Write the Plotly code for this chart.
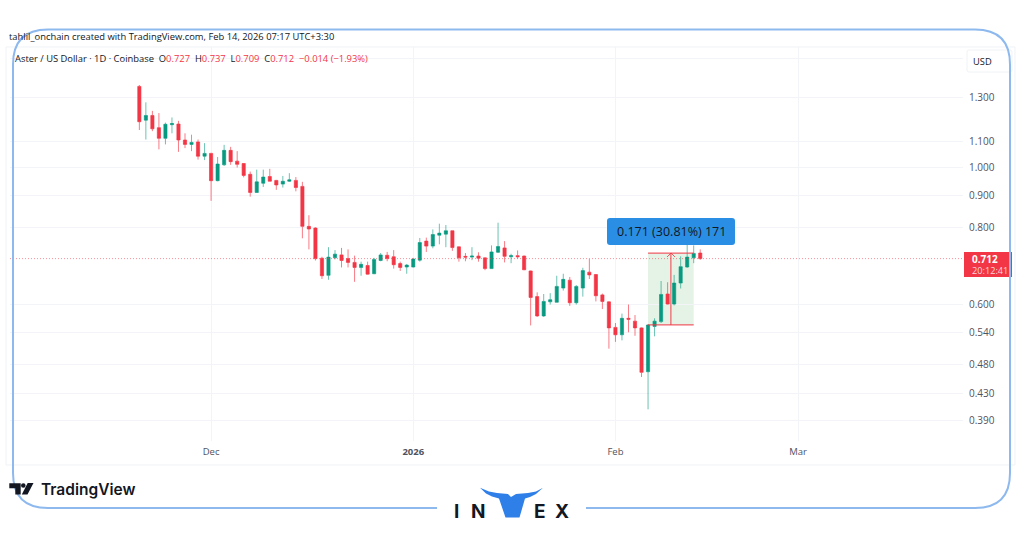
import plotly.graph_objects as go
import pandas as pd

first_day = "2025-11-20"
opens = [1.353,1.193,1.214,1.160,1.115,1.173,1.176,1.108,1.090,1.100,1.043,1.054,0.952,1.010,1.066,1.024,1.015,0.975,0.911,0.943,0.967,0.953,0.940,0.950,0.953,0.932,0.803,0.798,0.713,0.669,
         0.714,0.722,0.712,0.702,0.689,0.694,0.673,0.707,0.721,0.717,0.699,0.690,0.690,0.708,0.760,0.746,0.777,0.780,0.790,0.744,0.718,0.716,0.719,0.714,0.686,0.729,0.741,0.717,0.720,0.719,
         0.680,0.618,0.575,0.606,0.605,0.638,0.657,0.604,0.638,0.677,0.671,0.622,0.606,0.551,0.536,0.570,0.564,0.550,0.467,0.553,0.563,0.624,0.601,0.650,0.690,0.714,0.727]
highs = [1.360,1.275,1.235,1.225,1.182,1.205,1.190,1.136,1.130,1.110,1.095,1.056,1.040,1.088,1.080,1.063,1.016,0.985,0.992,0.992,0.995,0.955,0.969,0.979,0.965,0.948,0.837,0.800,0.717,0.743,
         0.735,0.741,0.737,0.720,0.704,0.704,0.714,0.727,0.730,0.735,0.704,0.698,0.714,0.769,0.770,0.794,0.811,0.807,0.790,0.745,0.727,0.743,0.729,0.715,0.748,0.814,0.760,0.725,0.734,0.720,
         0.681,0.628,0.624,0.626,0.668,0.673,0.665,0.645,0.688,0.711,0.672,0.625,0.607,0.560,0.580,0.600,0.577,0.551,0.558,0.570,0.655,0.652,0.670,0.718,0.768,0.748,0.737]
lows = [1.150,1.110,1.145,1.070,1.090,1.136,1.060,1.075,1.063,1.030,1.028,0.883,0.950,1.006,1.010,1.000,0.964,0.897,0.910,0.930,0.950,0.920,0.928,0.948,0.915,0.768,0.737,0.707,0.660,0.658,
        0.710,0.689,0.689,0.653,0.668,0.671,0.672,0.705,0.705,0.686,0.680,0.673,0.689,0.704,0.730,0.740,0.751,0.743,0.733,0.704,0.705,0.708,0.704,0.682,0.685,0.727,0.702,0.700,0.712,0.682,
        0.555,0.573,0.573,0.600,0.605,0.632,0.597,0.600,0.618,0.660,0.607,0.590,0.509,0.522,0.525,0.541,0.534,0.458,0.406,0.533,0.560,0.600,0.598,0.637,0.688,0.700,0.709]
closes = [1.186,1.214,1.155,1.115,1.175,1.178,1.108,1.090,1.098,1.043,1.054,0.952,1.013,1.066,1.022,1.012,0.971,0.911,0.948,0.965,0.950,0.937,0.950,0.955,0.928,0.803,0.795,0.712,0.668,0.716,
          0.724,0.707,0.702,0.689,0.697,0.672,0.710,0.722,0.712,0.696,0.689,0.695,0.711,0.756,0.746,0.779,0.783,0.790,0.742,0.714,0.716,0.719,0.713,0.686,0.730,0.745,0.718,0.720,0.717,0.683,
          0.616,0.575,0.607,0.611,0.642,0.659,0.604,0.642,0.681,0.670,0.620,0.607,0.550,0.536,0.570,0.568,0.550,0.466,0.556,0.564,0.623,0.601,0.650,0.691,0.716,0.726,0.712]

price_ticks = [1.5, 1.3, 1.1, 1.0, 0.9, 0.8, 0.6, 0.54, 0.48, 0.43, 0.39]
price_labels = ["", "1.300", "1.100", "1.000", "0.900", "0.800", "0.600", "0.540", "0.480", "0.430", "0.390"]
date_ticks = ["2025-12-01", "2026-01-01", "2026-02-01", "2026-03-01"]
date_labels = ["Dec", "<b>2026</b>", "Feb", "Mar"]
last_price = 0.712
measure_from = 0.556
measure_to = 0.727
measure_days = ["2026-02-06", "2026-02-13"]
measure_mid = "2026-02-09 12:00"

W, H = 1024, 538
RED, GREEN, INK, GREY, GRID = "#f23645", "#089981", "#131722", "#50535e", "#f3f4f7"
FONT = "Open Sans"
BLUE = "#8db9ef"

def px(x): return x / W
def py(y): return 1 - y / H

def path(points, close=True):
    s = "M " + " L ".join(f"{px(x):.5f},{py(y):.5f}" for x, y in points)
    return s + (" Z" if close else "")

def paper_shape(d, **kw):
    return dict(type="path", xref="paper", yref="paper", path=d, **kw)

def rounded(x0, y0, x1, y1, r):
    f = lambda x, y: f"{px(x):.5f},{py(y):.5f}"
    return (f"M {f(x0+r,y0)} L {f(x1-r,y0)} Q {f(x1,y0)} {f(x1,y0+r)} L {f(x1,y1-r)} Q {f(x1,y1)} {f(x1-r,y1)} "
            f"L {f(x0+r,y1)} Q {f(x0,y1)} {f(x0,y1-r)} L {f(x0,y0+r)} Q {f(x0,y0)} {f(x0+r,y0)} Z")

def note(x, y, text, size=10, color=INK, anchor="left", family=FONT, weight=None):
    font = dict(family=family, size=size, color=color)
    if weight:
        font["weight"] = weight
    return dict(xref="paper", yref="paper", x=px(x), y=py(y), text=text, showarrow=False,
                xanchor=anchor, yanchor="middle", align=anchor, font=font)

fig = go.Figure(go.Candlestick(
    x=pd.date_range(first_day, periods=len(opens)),
    open=opens, high=highs, low=lows, close=closes,
    whiskerwidth=0,
    increasing=dict(line=dict(color="rgba(8,153,129,0.6)", width=1), fillcolor=GREEN),
    decreasing=dict(line=dict(color="rgba(242,54,69,0.65)", width=1), fillcolor=RED),
    showlegend=False, hoverinfo="skip",
))

f = lambda x, y: f"{px(x):.5f},{py(y):.5f}"
frame_r = 35
frame_left = (f"M {f(437,508)} L {f(13+frame_r,508)} Q {f(13,508)} {f(13,508-frame_r)} L {f(13,29.5+frame_r)} "
              f"Q {f(13,29.5)} {f(13+frame_r,29.5)} L {f(1010-frame_r,29.5)} Q {f(1010,29.5)} {f(1010,29.5+frame_r)} "
              f"L {f(1010,508-frame_r)} Q {f(1010,508)} {f(1010-frame_r,508)} L {f(586,508)}")
horns = [(480,487.7),(489,491.5),(497,493),(508,494),(511,497),(516,494),(528,493),(536,491.5),(543,487.7),
         (536,494),(530,497),(525,498.5),(519.5,517.5),(505.5,517.5),(499,498.5),(492,496.5),(486,493.5)]

shapes = [
    paper_shape(path([(6,47),(1015,47),(1015,465),(6,465)]), line=dict(color="#f0f2f6", width=1), layer="below"),
    dict(type="rect", xref="x", yref="y", x0=measure_days[0], x1=measure_days[1], y0=measure_from, y1=measure_to,
         fillcolor="rgba(76,175,80,0.15)", line=dict(width=0), layer="below"),
    dict(type="line", xref="x", yref="y", x0=measure_days[0], x1=measure_days[1], y0=measure_from, y1=measure_from,
         line=dict(color="rgba(242,54,69,0.8)", width=1.2)),
    dict(type="line", xref="x", yref="y", x0=measure_days[0], x1=measure_days[1], y0=measure_to, y1=measure_to,
         line=dict(color="rgba(242,54,69,0.8)", width=1.2)),
    dict(type="line", xref="x", yref="y", x0=measure_mid, x1=measure_mid, y0=measure_from, y1=measure_to,
         line=dict(color="rgba(242,54,69,0.8)", width=1.2)),
    paper_shape(path([(667,257),(671,253),(675,257)], close=False), line=dict(color="rgba(242,54,69,0.8)", width=1)),
    dict(type="line", xref="paper", yref="y", x0=px(10), x1=px(963), y0=last_price, y1=last_price,
         line=dict(color="rgba(242,54,69,0.55)", width=1, dash="1px,2px")),
    paper_shape(rounded(607,218,735,245,3), fillcolor="#2a8fe4", line=dict(width=0)),
    paper_shape(rounded(967,50,1012,72,2), fillcolor="white", line=dict(color="#f0f2f6", width=1)),
    paper_shape(path([(964,252),(1012,252),(1012,277),(964,277)]), fillcolor=RED, line=dict(width=0)),
    paper_shape(frame_left, line=dict(color=BLUE, width=2)),
    paper_shape(path(horns), fillcolor="#2f7fe8", line=dict(width=0)),
    paper_shape(path([(9.3,483.3),(20.7,483.3),(20.7,494.5),(15.3,494.5),(15.3,488.3),(9.3,488.3)]), fillcolor="#131722", line=dict(width=0)),
    dict(type="circle", xref="paper", yref="paper", x0=px(21), x1=px(25.6), y0=py(483.2), y1=py(487.8), fillcolor="#131722", line=dict(width=0)),
    paper_shape(path([(33.5,483),(27.5,494.5),(21.8,494.5),(27.7,483)]), fillcolor="#131722", line=dict(width=0)),
]

red_span = lambda t: f'<span style="color:{RED}">{t}</span>'
gap = "&nbsp;&nbsp;"
legend_text = ("Aster / US Dollar · 1D · Coinbase" + gap + "O" + red_span("0.727") + gap + "H" + red_span("0.737") + gap + "L" + red_span("0.709")
               + gap + "C" + red_span("0.712") + gap + red_span("−0.014 (−1.93%)"))
annotations = [
    note(6.5, 37, "tahlil_onchain created with TradingView.com, Feb 14, 2026 07:17 UTC+3:30", size=9.4),
    note(12.5, 59, legend_text, size=9.4),
    note(982, 61.5, "USD", size=9.3, anchor="center"),
    note(671, 231.5, "0.171 (30.81%) 171", size=12.5, anchor="center"),
    note(970, 258.5, "<b>0.712</b>", size=10, color="white"),
    note(969.5, 270, "20:12:41", size=9.2, color="#ffd5d9"),
    note(39, 489, "TradingView", size=15.5, family="Inter", weight=600),
]
for x, letter in [(456.5, "I"), (478, "N"), (539.5, "E"), (561.5, "X")]:
    annotations.append(note(x, 511, f"<b>{letter}</b>", size=19, anchor="center", family="Inter"))

fig.update_layout(
    width=W, height=H, margin=dict(l=0, r=0, t=0, b=0),
    paper_bgcolor="white", plot_bgcolor="white",
    font=dict(family=FONT, size=10, color=INK),
    shapes=shapes, annotations=annotations,
    xaxis=dict(
        domain=[px(10), px(963)], range=["2025-10-31 04:00", "2026-03-26 07:00"],
        rangeslider=dict(visible=False), tickmode="array", tickvals=date_ticks, ticktext=date_labels,
        showgrid=True, gridcolor=GRID, gridwidth=1, zeroline=False, showline=False, ticks="",
        ticklabelstandoff=3, tickfont=dict(size=9.5, color=GREY),
    ),
    yaxis=dict(
        domain=[py(441), py(47)], type="log", side="right",
        range=[(167.5 - 441) / 617.7, (167.5 - 47) / 617.7],
        tickmode="array", tickvals=price_ticks, ticktext=price_labels,
        showgrid=True, gridcolor=GRID, gridwidth=1, zeroline=False, showline=False, ticks="",
        ticklabelstandoff=5, tickfont=dict(size=10, color=GREY),
    ),
)

fig.write_html("out.html", config=dict(displayModeBar=False),
               post_script="document.body.style.margin='0';document.body.style.overflow='hidden';")
